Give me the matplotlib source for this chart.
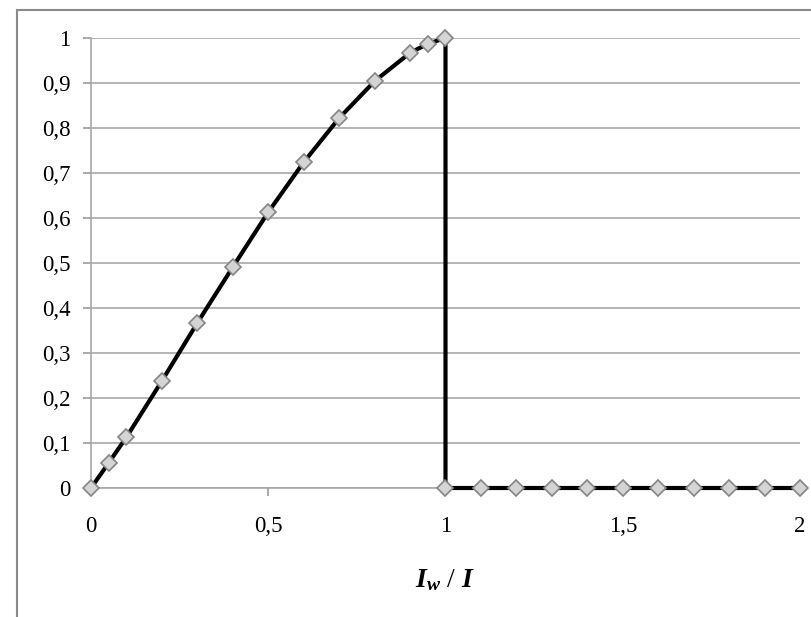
import matplotlib
matplotlib.use("Agg")
import matplotlib.pyplot as plt
from matplotlib.patches import Rectangle

x_vals = [0, 0.05, 0.1, 0.2, 0.3, 0.4, 0.5, 0.6, 0.7, 0.8, 0.9, 0.95, 1.0,
          1.0, 1.1, 1.2, 1.3, 1.4, 1.5, 1.6, 1.7, 1.8, 1.9, 2.0]
y_vals = [0, 0.056, 0.113, 0.238, 0.367, 0.491, 0.613, 0.724, 0.822, 0.904, 0.967, 0.987, 1.0,
          0, 0, 0, 0, 0, 0, 0, 0, 0, 0, 0]
x_ticks = [0, 0.5, 1, 1.5, 2]
x_ticklabels = ["0", "0,5", "1", "1,5", "2"]
y_ticks = [0, 0.1, 0.2, 0.3, 0.4, 0.5, 0.6, 0.7, 0.8, 0.9, 1.0]
y_ticklabels = ["0", "0,1", "0,2", "0,3", "0,4", "0,5", "0,6", "0,7", "0,8", "0,9", "1"]

plt.rcParams['font.family'] = ['Liberation Serif', 'DejaVu Serif']
plt.rcParams['mathtext.fontset'] = 'custom'
plt.rcParams['mathtext.it'] = 'Liberation Serif:italic:bold'
plt.rcParams['mathtext.rm'] = 'Liberation Serif'

W, H = 812, 617
fig = plt.figure(figsize=(W / 100, H / 100), dpi=100)
fig.patch.set_facecolor('white')

# outer chart border
fig.patches.append(Rectangle((17 / W, -0.05), 1.2, 1 - 10 / H + 0.05, transform=fig.transFigure,
                             fill=False, edgecolor='#8a8a8a', linewidth=1.5))

ax = fig.add_axes([91 / W, 1 - 488 / H, (800 - 91) / W, (488 - 38) / H])
ax.set_facecolor('white')
ax.set_xlim(0, 2)
ax.set_ylim(0, 1)

ax.plot(x_vals, y_vals, color='black', linewidth=3, marker='D', markersize=8,
        markerfacecolor='#d4d4d4', markeredgecolor='#858585', markeredgewidth=1.2,
        clip_on=False, zorder=5)

ax.set_xticks(x_ticks)
ax.set_xticklabels(x_ticklabels)
ax.set_yticks(y_ticks)
ax.set_yticklabels(y_ticklabels)
ax.tick_params(axis='both', labelsize=16.5, colors='#999999', labelcolor='black',
               direction='out', length=5.8, width=1.2)
ax.tick_params(axis='x', pad=14)
ax.tick_params(axis='y', pad=9)

ax.grid(axis='y', color='#a8a8a8', linewidth=1.2)
ax.set_axisbelow(True)
for s in ['top', 'right']:
    ax.spines[s].set_visible(False)
for s in ['left', 'bottom']:
    ax.spines[s].set_color('#a8a8a8')
    ax.spines[s].set_linewidth(1.2)

fig.text(445 / W, 1 - 580 / H, r"$I_w$ / $I$", fontsize=20, ha='center', va='center')

fig.savefig("out.png", dpi=100)
